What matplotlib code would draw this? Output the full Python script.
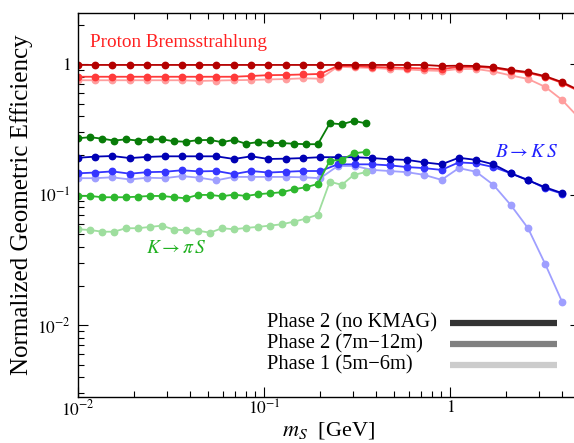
"""Normalized geometric efficiency vs scalar mass for three production channels."""

import matplotlib

matplotlib.use("Agg")
import matplotlib.pyplot as plt

plt.rcParams["font.family"] = ["Liberation Serif", "DejaVu Serif"]
plt.rcParams["mathtext.fontset"] = "stix"

# mass grids (GeV)
mass_coarse = [
    0.0100, 0.0124, 0.0153, 0.0190, 0.0236, 0.0292, 0.0362, 0.0448, 0.0555,
    0.0688, 0.0853, 0.1056, 0.1309, 0.1622, 0.2009, 0.2489, 0.3084, 0.3821,
    0.4734, 0.5865, 0.7266, 0.9002, 1.1153, 1.3818, 1.7119, 2.1209, 2.6276,
    3.2554, 4.0000,
]
mass_proton = mass_coarse + [4.96]
mass_kaon = [
    0.0100, 0.0116, 0.0135, 0.0156, 0.0181, 0.0210, 0.0244, 0.0283, 0.0328,
    0.0380, 0.0441, 0.0512, 0.0594, 0.0689, 0.0799, 0.0927, 0.1075, 0.1247,
    0.1447, 0.1678, 0.1947, 0.2259, 0.2620, 0.3040, 0.3520,
]

# Proton bremsstrahlung
proton_p2_nokmag = [0.988] * 21 + [0.970, 0.975, 0.970, 0.950, 0.905, 0.870, 0.810, 0.730, 0.630]
proton_p2 = [0.802] * 10 + [0.813, 0.825, 0.828, 0.835, 0.843,
                            0.970, 0.970, 0.953, 0.945, 0.937, 0.929, 0.920, 0.953, 0.953,
                            0.937, 0.890, 0.858, 0.800, 0.720, 0.620]
proton_p1 = [0.754] * 7 + [0.745, 0.750, 0.755, 0.758, 0.765, 0.770, 0.780, 0.775,
                           0.958, 0.945, 0.937, 0.920, 0.912, 0.897, 0.889, 0.920, 0.920,
                           0.880, 0.821, 0.772, 0.670, 0.533, 0.385]

# B -> K S
b_p2_nokmag = [0.192, 0.196, 0.198, 0.191, 0.195, 0.197, 0.197, 0.197, 0.197, 0.188,
               0.197, 0.188, 0.189, 0.191, 0.194, 0.194, 0.194, 0.191, 0.187, 0.185,
               0.177, 0.171, 0.192, 0.185, 0.171, 0.146, 0.129, 0.114, 0.103]
b_p2 = [0.146, 0.148, 0.151, 0.145, 0.149, 0.150, 0.154, 0.151, 0.152, 0.144,
        0.152, 0.148, 0.150, 0.152, 0.152, 0.171, 0.171, 0.171, 0.168, 0.163,
        0.160, 0.155, 0.177, 0.174, 0.163, 0.146, 0.130, 0.112, 0.102]
b_p1 = [0.134, 0.134, 0.136, 0.131, 0.135, 0.134, 0.139, 0.135, 0.129, 0.137,
        0.137, 0.137, 0.137, 0.136, 0.134, 0.166, 0.166, 0.155, 0.152, 0.149,
        0.142, 0.130, 0.160, 0.150, 0.119, 0.0835, 0.0554, 0.0293, 0.0152]

# K -> pi S
k_p2_nokmag = [0.271, 0.276, 0.269, 0.260, 0.266, 0.260, 0.266, 0.266, 0.257, 0.255,
               0.262, 0.263, 0.253, 0.263, 0.246, 0.253, 0.249, 0.249, 0.246, 0.244,
               0.244, 0.353, 0.347, 0.368, 0.353]
k_p2 = [0.0979, 0.0979, 0.0957, 0.0957, 0.0957, 0.0967, 0.0979, 0.0979, 0.0957, 0.0940,
        0.0997, 0.0997, 0.0974, 0.1002, 0.0979, 0.1009, 0.1027, 0.1045, 0.1102, 0.1141,
        0.1210, 0.1825, 0.1848, 0.208, 0.213]
k_p1 = [0.0544, 0.0537, 0.0521, 0.0521, 0.0554, 0.0554, 0.0567, 0.0580, 0.0540, 0.0535,
        0.0531, 0.0512, 0.0554, 0.0544, 0.0557, 0.0567, 0.0580, 0.0594, 0.0622, 0.0656,
        0.0704, 0.126, 0.119, 0.142, 0.149]

legend_labels = ["Phase 2 (no KMAG)", "Phase 2 (7m\u221212m)", "Phase 1 (5m\u22126m)"]
legend_colors = ["#333333", "#808080", "#cccccc"]

SERIES = [
    # (x, y, color) drawn light -> dark so the darker curves sit on top
    (mass_proton, proton_p1, "#ff9e9e"),
    (mass_proton, proton_p2, "#ff3a3a"),
    (mass_proton, proton_p2_nokmag, "#b40000"),
    (mass_coarse, b_p1, "#9f9fff"),
    (mass_coarse, b_p2, "#3535ff"),
    (mass_coarse, b_p2_nokmag, "#0000b4"),
    (mass_kaon, k_p1, "#9ede9e"),
    (mass_kaon, k_p2, "#2eb82e"),
    (mass_kaon, k_p2_nokmag, "#087c08"),
]

fig = plt.figure(figsize=(5.74, 4.43), dpi=100)
ax = fig.add_axes([78 / 574, 46 / 443, 502 / 574, 384 / 443])

for xs, ys, color in SERIES:
    ax.plot(xs, ys, color=color, lw=1.3, marker="o", ms=4.6, mec=color, mfc=color)

ax.set_xscale("log")
ax.set_yscale("log")
ax.set_xlim(0.01, 5.0)
ax.set_ylim(0.00282, 2.47)

ax.set_xticks([0.01, 0.1, 1])
ax.set_xticklabels([r"$10^{-2}$", r"$10^{-1}$", r"$1$"])
ax.set_yticks([0.01, 0.1, 1])
ax.set_yticklabels([r"$10^{-2}$", r"$10^{-1}$", r"$1$"])
ax.tick_params(which="both", direction="in", top=True, right=True, labelsize=12.5)
ax.tick_params(axis="x", pad=2)
ax.tick_params(axis="y", pad=5)
ax.tick_params(which="major", length=7, width=0.8)
ax.tick_params(which="minor", length=4, width=0.8)
for spine in ax.spines.values():
    spine.set_linewidth(1.0)

ax.set_xlabel(r"$m_S$  [GeV]", fontsize=16, labelpad=0)
ax.set_ylabel("Normalized Geometric Efficiency", fontsize=18, labelpad=3)

ax.text(0.024, 0.922, "Proton Bremsstrahlung", color="#ff2020", fontsize=13.8,
        transform=ax.transAxes, va="center", ha="left")
ax.text(0.894, 0.638, r"$B \rightarrow K\,S$", color="#2020ff", fontsize=14,
        transform=ax.transAxes, va="center", ha="center")
ax.text(0.195, 0.388, r"$K \rightarrow \pi\,S$", color="#20b020", fontsize=14,
        transform=ax.transAxes, va="center", ha="center")

# legend drawn as a small table: label on the left, thick swatch on the right
for row, (label, color) in enumerate(zip(legend_labels, legend_colors)):
    ypos = 0.1935 - row * 0.0545
    ax.text(0.3765, ypos, label, fontsize=14.8, transform=ax.transAxes, va="center", ha="left")
    ax.plot([0.741, 0.954], [ypos, ypos], color=color, lw=4.5, transform=ax.transAxes,
            solid_capstyle="butt")

fig.savefig("out.png", dpi=100)
